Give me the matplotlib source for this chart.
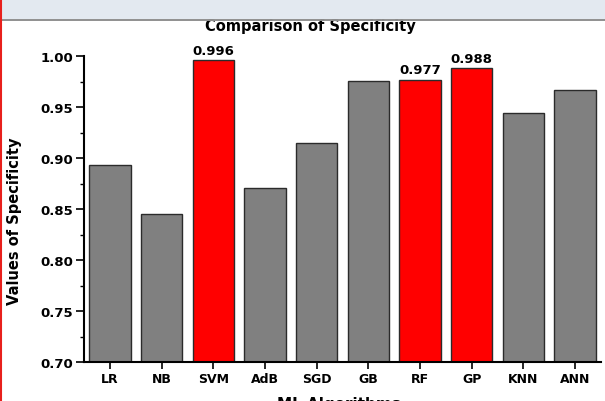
import numpy as np
import matplotlib.pyplot as plt
from matplotlib.ticker import FixedLocator
from matplotlib.patches import Rectangle
from matplotlib.lines import Line2D

# Data
algorithms = ['LR', 'NB', 'SVM', 'AdB', 'SGD', 'GB', 'RF', 'GP', 'KNN', 'ANN']
specificity = [0.893, 0.845, 0.996, 0.871, 0.915, 0.976, 0.977, 0.988, 0.944, 0.967]
highlighted = ['SVM', 'RF', 'GP']
yticks = [0.70, 0.75, 0.80, 0.85, 0.90, 0.95, 1.00]
yminor = [0.725, 0.775, 0.825, 0.875, 0.925, 0.975]

plt.rcParams['font.family'] = ['DejaVu Sans']
plt.rcParams['font.weight'] = 'bold'

fig = plt.figure(figsize=(6.05, 4.02), dpi=100)
ax = fig.add_axes([84 / 605, 1 - 363 / 402, (601 - 84) / 605, (363 - 28) / 402])

x = np.arange(len(algorithms))
colors = ['#ff0000' if a in highlighted else '#808080' for a in algorithms]
ax.bar(x, specificity, width=0.8, color=colors, edgecolor='#2b2b2b', linewidth=1.0)

for xi, a, v in zip(x, algorithms, specificity):
    if a in highlighted:
        ax.text(xi, v + 0.003, f'{v:.3f}', ha='center', va='bottom',
                fontsize=9.5, fontweight='bold')

ax.set_ylim(0.70, 1.0285)
ax.set_xlim(-0.5, 9.5)
ax.set_xticks(x)
ax.set_xticklabels(algorithms, fontsize=9, fontweight='bold')
ax.set_yticks(yticks)
ax.set_yticklabels([f'{t:.2f}' for t in yticks], fontsize=9.5, fontweight='bold')
ax.yaxis.set_minor_locator(FixedLocator(yminor))
ax.tick_params(axis='y', which='major', direction='out', length=6, width=1.2, pad=2)
ax.tick_params(axis='y', which='minor', direction='out', length=3, width=1.0)
ax.tick_params(axis='x', which='major', direction='out', length=5, width=1.2, pad=2)

ax.spines['top'].set_visible(False)
ax.spines['right'].set_visible(False)
ax.spines['left'].set_linewidth(1.5)
ax.spines['bottom'].set_linewidth(1.5)
ax.spines['left'].set_bounds(0.70, 1.00)

fig.text(15 / 605, 1 - 221 / 402, 'Values of Specificity', ha='center', va='center',
         rotation=90, fontsize=10.5, fontweight='bold')
fig.text(310 / 605, 1 - 27 / 402, 'Comparison of Specificity', ha='center', va='center',
         fontsize=10.5, fontweight='bold')
# x-axis title sits partly below the bottom edge, as in the original screenshot
fig.text(339 / 605, 1 - 397 / 402, 'ML Algorithms', ha='center', va='top',
         fontsize=11, fontweight='bold')

# header band and frame decorations
fig.patches.append(Rectangle((0, 1 - 20 / 402), 1, 20 / 402, transform=fig.transFigure,
                             facecolor='#e3e9f0', edgecolor='none', zorder=5))
fig.lines.append(Line2D([0, 1], [1 - 21 / 402, 1 - 21 / 402], transform=fig.transFigure,
                        color='#8f8f8f', linewidth=1.4, zorder=6))
fig.lines.append(Line2D([1 / 605, 1 / 605], [0, 1], transform=fig.transFigure,
                        color='#e8201c', linewidth=1.5, zorder=7))

plt.savefig('out.png', dpi=100, facecolor='white')
